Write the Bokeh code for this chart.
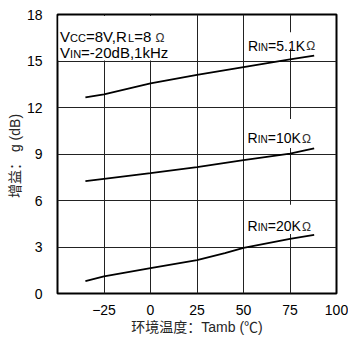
from bokeh.plotting import figure
from bokeh.models import Range1d, FixedTicker, Label, BoxAnnotation
from bokeh.embed import file_html
from bokeh.resources import INLINE

# ---- data ----
temp_51k = [-35, -25, 0, 25, 50, 75, 88]
gain_51k = [12.65, 12.85, 13.55, 14.1, 14.6, 15.1, 15.35]

temp_10k = [-35, -25, 0, 25, 50, 75, 88]
gain_10k = [7.25, 7.4, 7.76, 8.15, 8.6, 9.02, 9.36]

temp_20k = [-35, -25, 0, 25, 40, 50, 75, 88]
gain_20k = [0.8, 1.1, 1.64, 2.16, 2.6, 2.94, 3.52, 3.78]

x_ticks = [-25, 0, 25, 50, 75, 100]
y_ticks = [0, 3, 6, 9, 12, 15, 18]

x_title = "环境温度：Tamb (℃)"
y_title = "增益：  g (dB)"

FONT = "Liberation Sans"
MIXED = "Liberation Sans, Noto Sans CJK SC"

p = figure(width=348, height=337, output_backend="svg", toolbar_location=None,
           x_range=Range1d(-50, 100), y_range=Range1d(0, 18),
           min_border_left=57, min_border_right=12, min_border_top=14, min_border_bottom=40)
p.background_fill_color = "white"
p.border_fill_color = "white"
p.outline_line_color = "black"
p.outline_line_width = 2

p.xaxis.ticker = FixedTicker(ticks=x_ticks)
p.yaxis.ticker = FixedTicker(ticks=y_ticks)
p.xgrid.ticker = FixedTicker(ticks=x_ticks)
p.ygrid.ticker = FixedTicker(ticks=y_ticks)
for g in (p.xgrid, p.ygrid):
    g.grid_line_color = "#222222"
    g.grid_line_width = 1
    g.grid_line_alpha = 1

for ax in (p.xaxis, p.yaxis):
    ax.axis_line_color = None
    ax.major_tick_line_color = None
    ax.minor_tick_line_color = None
    ax.major_label_text_font = FONT
    ax.major_label_text_font_size = "14px"
    ax.major_label_text_color = "black"
    ax.axis_label_text_font = MIXED
    ax.axis_label_text_font_size = "14px"
    ax.axis_label_text_font_style = "normal"
    ax.axis_label_text_color = "#262626"
p.xaxis.major_label_standoff = 5
p.yaxis.major_label_standoff = 9
p.xaxis.axis_label = x_title
p.yaxis.axis_label = y_title
p.xaxis.axis_label_standoff = 1
p.yaxis.axis_label_standoff = 1

# white backgrounds behind the annotations (hide the grid there, keep the frame)
for l, r, b, t in [(-49.5, 13, 15.03, 17.9), (51, 92, 15.8, 16.86),
                   (51, 92, 9.38, 11.26), (51, 92, 3.84, 5.73)]:
    p.add_layout(BoxAnnotation(left=l, right=r, bottom=b, top=t, fill_color="white",
                               fill_alpha=1, line_color=None, level="underlay"))

# curves
for xs, ys in [(temp_51k, gain_51k), (temp_10k, gain_10k), (temp_20k, gain_20k)]:
    p.line(xs, ys, line_color="black", line_width=1.8)

# Liberation Sans advance widths (em)
W = {"V": .667, "C": .722, "=": .584, "8": .556, ",": .278, "R": .722, "L": .556,
     " ": .278, "I": .278, "N": .722, "-": .333, "2": .556, "0": .556, "d": .556,
     "B": .667, "1": .556, "k": .5, "H": .722, "z": .5, "5": .556, ".": .278,
     "K": .667, "Ω": .768}


def rich(x, y, pieces, base):
    off = 0.0
    for txt, size, col in pieces:
        dy = -0.45 * (base - size)
        p.add_layout(Label(x=x, y=y, x_offset=off, y_offset=dy, text=txt, text_font=FONT,
                           text_font_size=f"{size}px", text_color=col,
                           text_baseline="alphabetic", text_align="left"))
        off += sum(W.get(c, .556) for c in txt) * size


B, S, O = 15, 11, 12
rich(-48.6, 16.6, [("V", B, "black"), ("CC", S, "black"), ("=8V,R", B, "black"),
                   ("L", S, "black"), ("=8 ", B, "black"), ("Ω", O, "#333333")], B)
rich(-48.6, 15.55, [("V", B, "black"), ("IN", S, "black"), ("=-20dB,1kHz", B, "black")], B)

B2, S2 = 14, 10
rich(52.4, 16.0, [("R", B2, "black"), ("IN", S2, "black"), ("=5.1K", B2, "black"),
                  (" ", 4, "black"), ("Ω", O, "#333333")], B2)
rich(52.2, 10.03, [("R", B2, "black"), ("IN", S2, "black"), ("=10K", B2, "black"),
                   (" ", 4, "black"), ("Ω", O, "#333333")], B2)
rich(52.2, 4.36, [("R", B2, "black"), ("IN", S2, "black"), ("=20K", B2, "black"),
                  (" ", 4, "black"), ("Ω", O, "#333333")], B2)

open("out.html", "w").write(file_html(p, INLINE))
